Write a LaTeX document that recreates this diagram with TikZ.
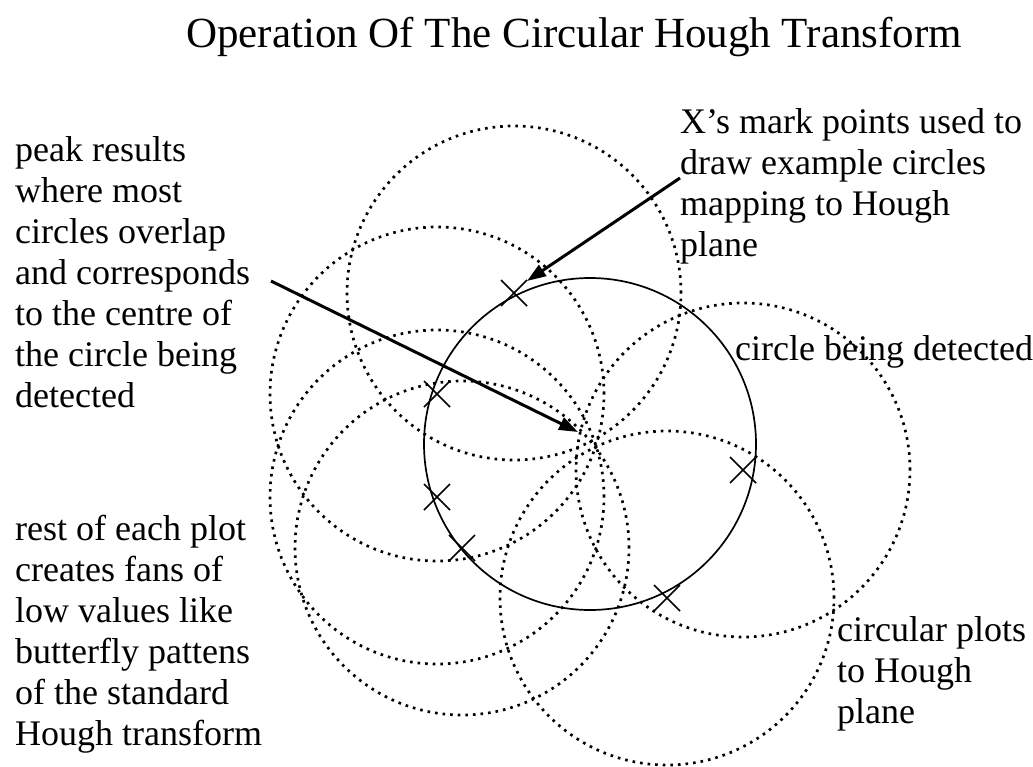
\documentclass[tikz,border=0pt]{standalone}
\usepackage{fontspec}
\setmainfont{Liberation Serif}
\usetikzlibrary{arrows.meta}

\begin{document}
\begin{tikzpicture}[x=1pt,y=-1pt,
    houghplot/.style={line width=2.7pt,dash pattern=on 2.6pt off 5pt},
    detected/.style={line width=1.7pt},
    xmark/.style={line width=1.5pt},
    pointer/.style={line width=3pt,-{Triangle[length=19pt,width=13pt]}},
    note/.style={anchor=base west,align=left,inner sep=0pt,font=\fontsize{36}{41}\selectfont}]
  \useasboundingbox (0,0) rectangle (1033,766);
  % 标题
  \node[anchor=base,inner sep=0pt,font=\fontsize{43}{50}\selectfont] (title) at (574,47)
    {Operation Of The Circular Hough Transform};
  % 被检测的圆（实线），圆心即霍夫平面的峰值
  \def\rad{167pt}
  \coordinate (peak) at (590,444);
  \draw[detected] (peak) circle[radius=166pt];
  % 圆上的点（X 标记），每点画一个同半径的虚线圆
  \foreach \i/\px/\py in {1/514/293, 2/437/394, 3/437/497, 4/462/548, 5/743/470, 6/667/598}{
    \coordinate (m\i) at (\px,\py);
    \draw[houghplot] (m\i) circle[radius=\rad];
    \draw[xmark] (m\i) +(-13,-13) -- +(13,13) (m\i) +(-13,13) -- +(13,-13);
  }
  % 文字说明（坐标为最后一行的基线）
  \node[note] (peaknote) at (15,407) {peak results\\where most\\circles overlap\\and corresponds\\to the centre of\\the circle being\\detected};
  \node[note] (restnote) at (15,745) {rest of each plot\\creates fans of\\low values like\\butterfly pattens\\of the standard\\Hough transform};
  \node[note] (marknote) at (680,256) {X’s mark points used to\\draw example circles\\mapping to Hough\\plane};
  \node[note] (circnote) at (735,360) {circle being detected};
  \node[note] (plotnote) at (837,723) {circular plots\\to Hough\\plane};
  % 箭头
  \coordinate (peakfrom) at (271,281);
  \coordinate (peaktip) at (578,432);
  \coordinate (markfrom) at (680,178);
  \coordinate (marktip) at (527,281);
  \draw[pointer] (peakfrom) -- (peaktip);
  \draw[pointer] (markfrom) -- (marktip);
\end{tikzpicture}
\end{document}
